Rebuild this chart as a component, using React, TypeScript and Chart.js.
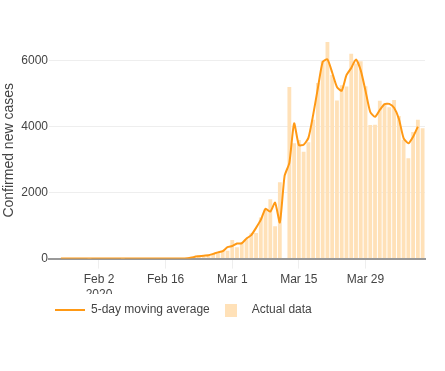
import React, { useEffect, useRef } from 'react';
import { Chart, registerables } from 'chart.js';

Chart.register(...registerables);

// Categories: one per day, Jan 23 – Apr 10, 2020
const DATES = [
  'Jan 23', 'Jan 24', 'Jan 25', 'Jan 26', 'Jan 27', 'Jan 28', 'Jan 29', 'Jan 30', 'Jan 31',
  'Feb 1', 'Feb 2', 'Feb 3', 'Feb 4', 'Feb 5', 'Feb 6', 'Feb 7', 'Feb 8', 'Feb 9', 'Feb 10',
  'Feb 11', 'Feb 12', 'Feb 13', 'Feb 14', 'Feb 15', 'Feb 16', 'Feb 17', 'Feb 18', 'Feb 19', 'Feb 20',
  'Feb 21', 'Feb 22', 'Feb 23', 'Feb 24', 'Feb 25', 'Feb 26', 'Feb 27', 'Feb 28', 'Feb 29',
  'Mar 1', 'Mar 2', 'Mar 3', 'Mar 4', 'Mar 5', 'Mar 6', 'Mar 7', 'Mar 8', 'Mar 9', 'Mar 10',
  'Mar 11', 'Mar 12', 'Mar 13', 'Mar 14', 'Mar 15', 'Mar 16', 'Mar 17', 'Mar 18', 'Mar 19', 'Mar 20',
  'Mar 21', 'Mar 22', 'Mar 23', 'Mar 24', 'Mar 25', 'Mar 26', 'Mar 27', 'Mar 28', 'Mar 29', 'Mar 30',
  'Mar 31', 'Apr 1', 'Apr 2', 'Apr 3', 'Apr 4', 'Apr 5', 'Apr 6', 'Apr 7', 'Apr 8', 'Apr 9', 'Apr 10',
];

// Actual daily confirmed new cases (bars)
const ACTUAL = [
  0, 0, 0, 0, 0, 0, 0, 0, 2,
  0, 0, 0, 0, 0, 0, 1, 0, 0, 0,
  0, 0, 0, 0, 0, 0, 0, 0, 0, 0,
  17, 42, 93, 74, 93, 131, 202, 233, 240,
  566, 342, 466, 587, 769, 778, 1247, 1492, 1797, 977,
  2313, 0, 5198, 3497, 3590, 3233, 3526, 4207, 5322, 5986,
  6557, 5560, 4789, 5249, 5210, 6203, 5909, 5974, 5217, 4050,
  4053, 4782, 4668, 4585, 4805, 4316, 3599, 3039, 3836, 4204, 3951,
];

// Smoothed line ("5-day moving average" series as drawn)
const MOVING_AVG = [
  null, null, 0, 0, 0, 0, 0, 0.7, 0.7,
  0.7, 0, 0, 0, 0, 0.3, 0.3, 0.3, 0, 0,
  0, 0, 0, 0, 0, 0, 0, 0, 0, 5.7,
  19.7, 50.7, 69.7, 86.7, 99.3, 142, 188.7, 225, 346.3,
  382.7, 458, 465, 607.3, 711.3, 931.3, 1172.3, 1512, 1422, 1695.7,
  1096.7, 2503.7, 2898.3, 4095, 3440, 3449.7, 3655.3, 4351.7, 5171.7, 5955,
  6034.3, 5635.3, 5199.3, 5082.7, 5554, 5774, 6028.7, 5700, 5080.3, 4440,
  4295, 4501, 4678.3, 4686, 4568.7, 4240, 3651.3, 3491.3, 3693, 3997, null,
];

const X_TICK_DATES = ['Feb 2', 'Feb 16', 'Mar 1', 'Mar 15', 'Mar 29'];
const YEAR_LABEL = '2020';
const Y_TICKS = [0, 2000, 4000, 6000];

const LINE_COLOR = '#ff9915';
const BAR_COLOR = '#ffe1b8';
const TEXT_COLOR = '#444';

export default function App() {
  const ref = useRef<HTMLCanvasElement>(null);

  useEffect(() => {
    document.body.style.margin = '0';
    const canvas = ref.current;
    if (!canvas) return;

    Chart.defaults.font.family = "'Liberation Sans', Arial, sans-serif";
    Chart.defaults.color = TEXT_COLOR;

    const swatch = document.createElement('canvas');
    swatch.width = 12;
    swatch.height = 13;
    const sctx = swatch.getContext('2d');
    if (sctx) {
      sctx.fillStyle = BAR_COLOR;
      sctx.fillRect(0, 0, 12, 13);
    }

    const clipYear = {
      id: 'clipYear',
      afterDraw(chart: any) {
        const xs = chart.scales.x;
        const c = chart.ctx;
        c.save();
        c.fillStyle = '#fff';
        c.fillRect(xs.left - 30, xs.bottom - 4, xs.width, 7);
        c.restore();
      },
    };

    const chart = new Chart(canvas, {
      type: 'bar',
      data: {
        labels: DATES,
        datasets: [
          {
            type: 'line',
            label: '5-day moving average',
            data: MOVING_AVG as any,
            borderColor: LINE_COLOR,
            backgroundColor: LINE_COLOR,
            borderWidth: 2,
            pointRadius: 0,
            pointHoverRadius: 0,
            tension: 0.2,
            fill: false,
            order: 0,
          } as any,
          {
            type: 'bar',
            label: 'Actual data',
            data: ACTUAL,
            backgroundColor: BAR_COLOR,
            borderWidth: 0,
            barPercentage: 0.8,
            categoryPercentage: 1,
            order: 1,
          },
        ],
      },
      options: {
        responsive: false,
        animation: false,
        devicePixelRatio: 1,
        layout: { padding: { top: 42, right: 20, bottom: 45, left: 0 } },
        scales: {
          x: {
            type: 'category',
            offset: true,
            grid: {
              display: true,
              drawOnChartArea: false,
              drawTicks: true,
              tickLength: 10,
              tickColor: '#eee',
              offset: false,
            },
            border: { display: true, color: '#999', width: 2 },
            ticks: {
              autoSkip: false,
              maxRotation: 0,
              minRotation: 0,
              padding: 4,
              color: TEXT_COLOR,
              font: { size: 12 },
              callback: (v: any) => {
                const lab = DATES[v as number];
                return lab === X_TICK_DATES[0] ? [lab, YEAR_LABEL] : lab;
              },
            },
            afterBuildTicks: (axis: any) => {
              axis.ticks = axis.ticks.filter((t: any) => X_TICK_DATES.includes(DATES[t.value]));
            },
            afterFit: (axis: any) => {
              axis.height = 39.4;
            },
          },
          y: {
            min: 0,
            max: 6560,
            afterBuildTicks: (axis: any) => {
              axis.ticks = Y_TICKS.map((v) => ({ value: v }));
            },
            grid: { color: '#eee', drawTicks: false },
            border: { display: false },
            ticks: {
              padding: 1,
              color: TEXT_COLOR,
              font: { size: 12 },
              callback: (v: any) => String(v),
            },
            title: {
              display: true,
              text: 'Confirmed new cases',
              color: TEXT_COLOR,
              font: { size: 14 },
              padding: { top: 1, bottom: 0 },
            },
            afterFit: (axis: any) => {
              axis.width = 49;
            },
          },
        },
        plugins: {
          legend: {
            position: 'bottom',
            align: 'start',
            fullSize: false,
            labels: {
              usePointStyle: true,
              pointStyleWidth: 30,
              boxHeight: 12,
              padding: 6,
              color: TEXT_COLOR,
              font: { size: 12 },
              generateLabels: (ch: any) => {
                const items = (Chart.defaults.plugins.legend.labels as any).generateLabels(ch);
                return items.map((it: any) =>
                  it.datasetIndex === 1
                    ? { ...it, pointStyle: swatch, lineWidth: 0 }
                    : { ...it, pointStyle: 'line', lineWidth: 2, strokeStyle: LINE_COLOR }
                );
              },
            },
          },
          tooltip: { enabled: false },
        },
      } as any,
      plugins: [clipYear],
    });

    return () => chart.destroy();
  }, []);

  return <canvas ref={ref} width={445} height={371} style={{ display: 'block' }} />;
}
